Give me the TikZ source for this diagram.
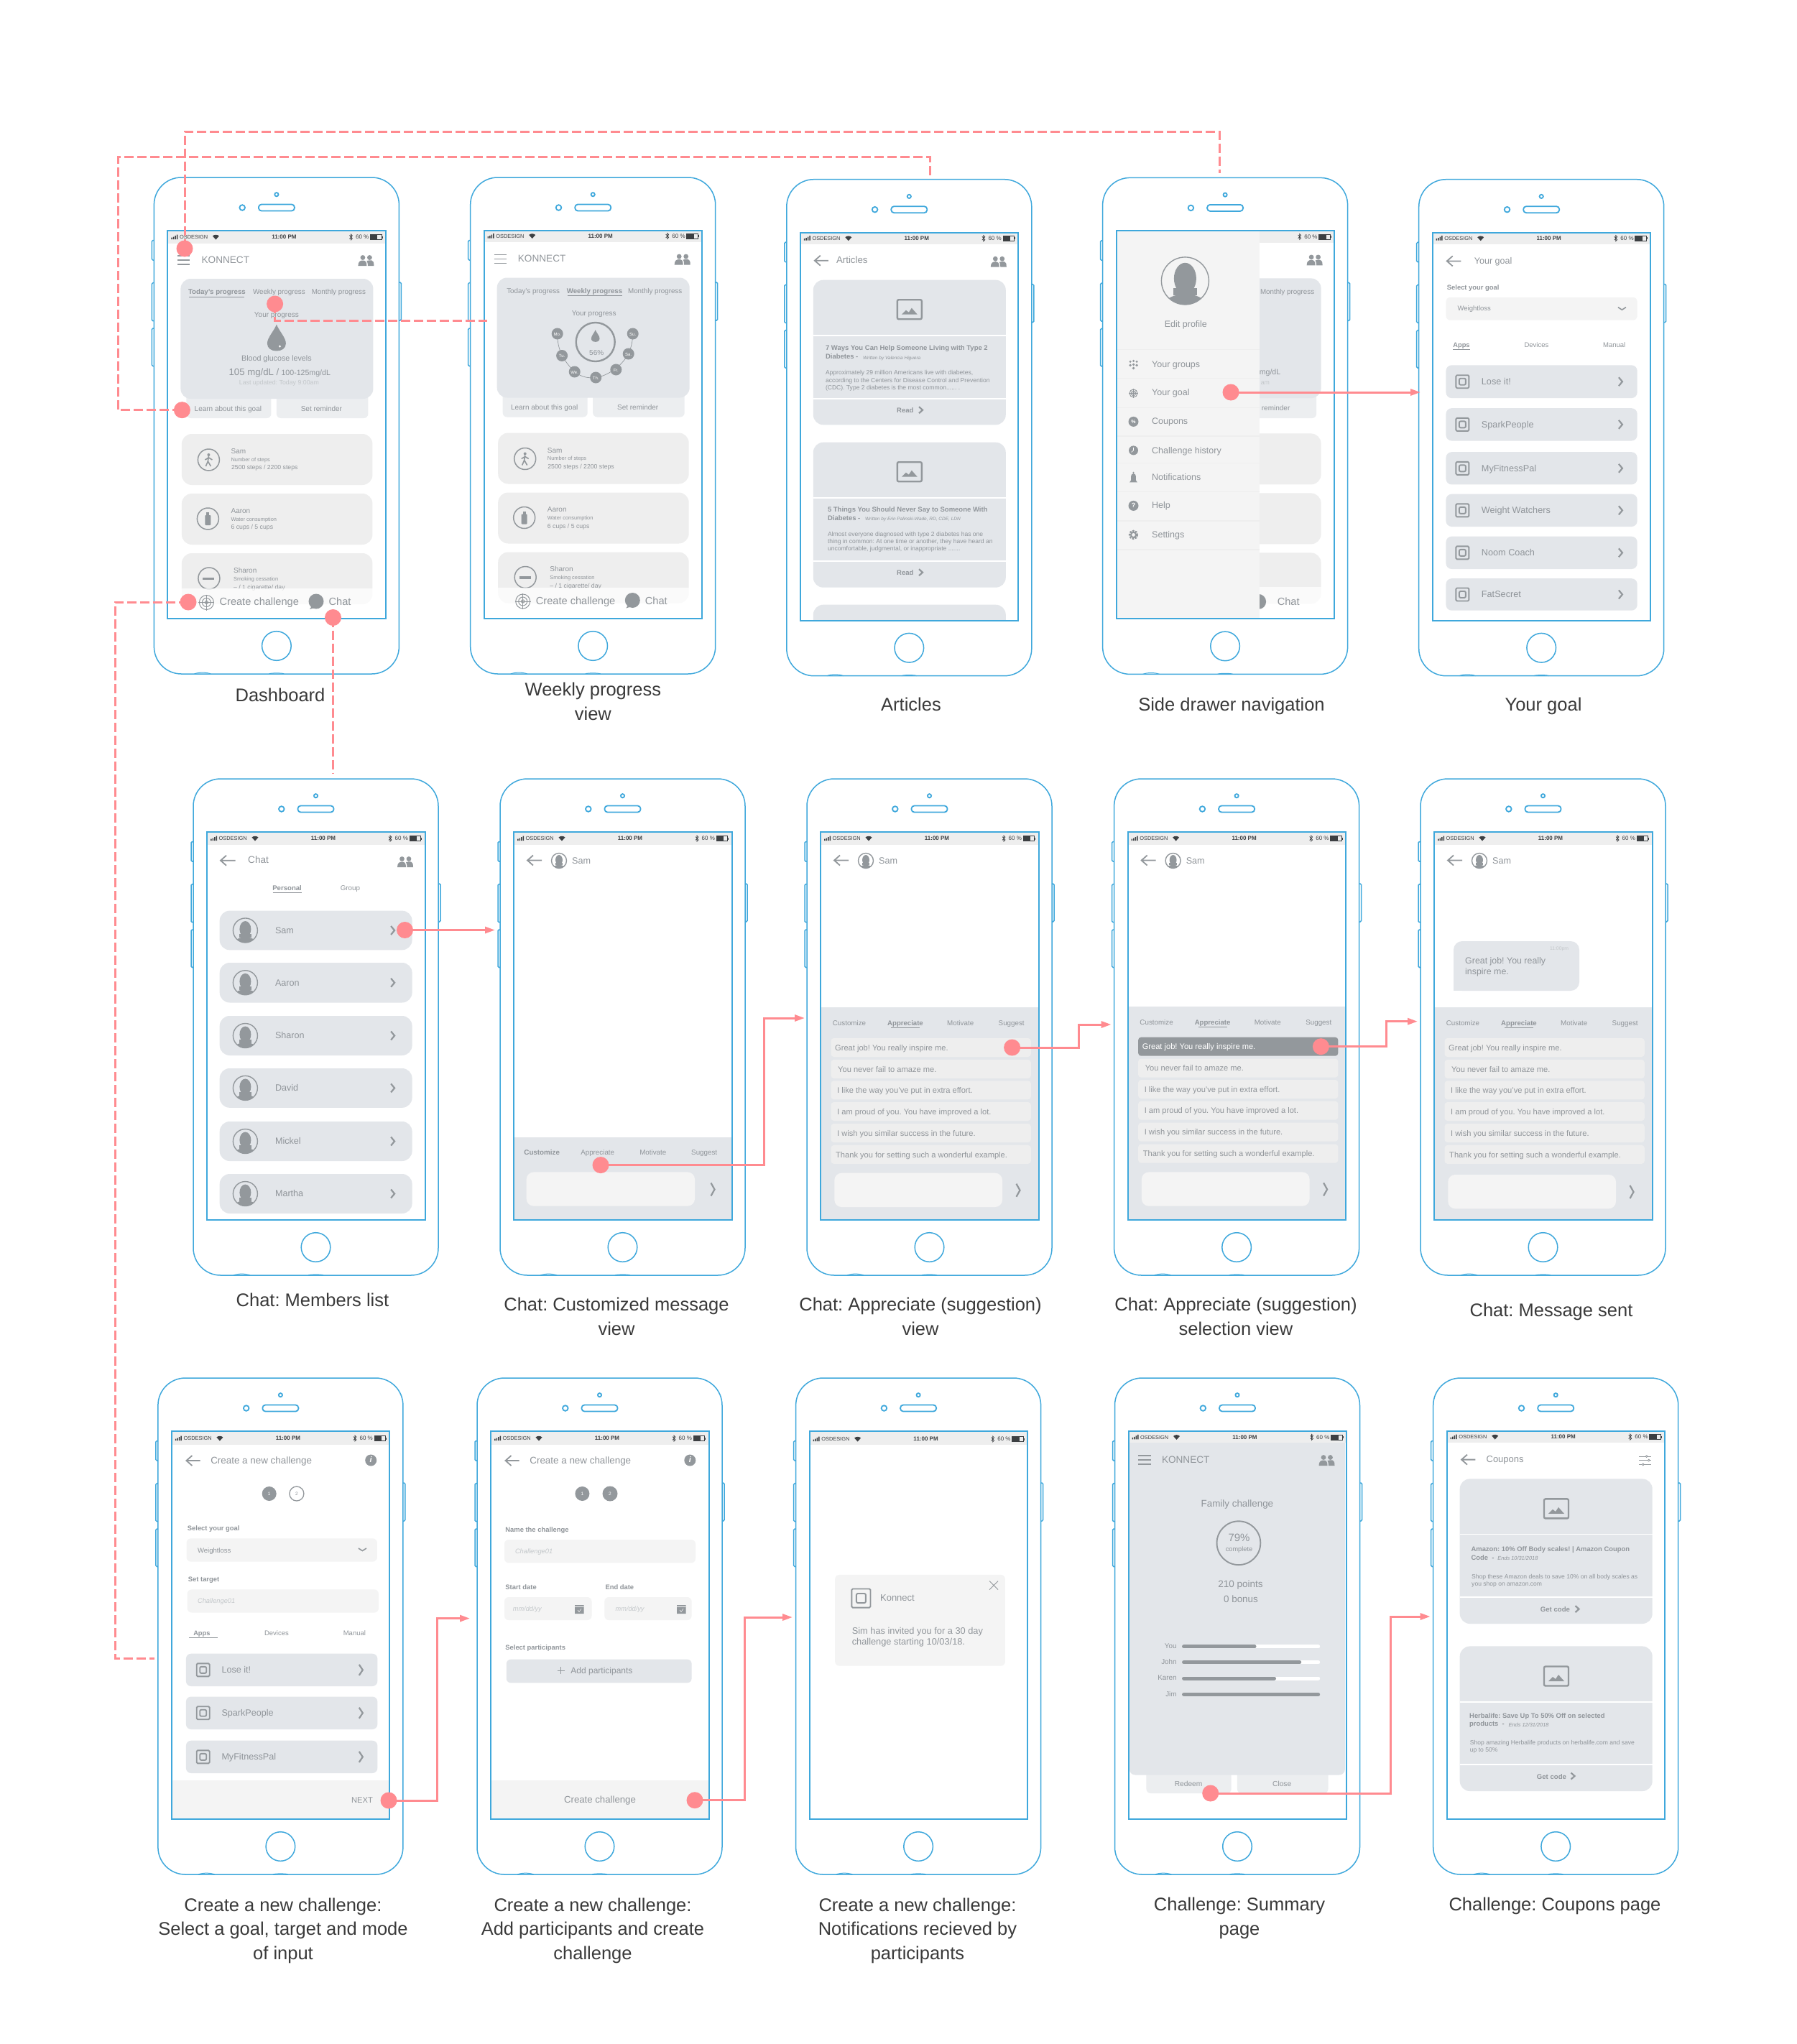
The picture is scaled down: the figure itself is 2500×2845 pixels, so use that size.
\documentclass[tikz,border=0pt]{standalone}
\usepackage{fontspec}
\setmainfont{Liberation Sans}
\usetikzlibrary{arrows.meta}
\definecolor{phb}{HTML}{3FA8DC}
\definecolor{pnk}{HTML}{FF8B90}
\definecolor{cardg}{HTML}{E3E6EA}
\definecolor{rowg}{HTML}{EEEEEE}
\definecolor{lite}{HTML}{F4F4F4}
\definecolor{btng}{HTML}{ECEEF0}
\definecolor{icn}{HTML}{93989C}
\definecolor{txt}{HTML}{90959A}
\definecolor{pale}{HTML}{C4C8CB}
\definecolor{stat}{HTML}{3C3F42}
\definecolor{capc}{HTML}{3A3A3A}
\newcounter{tn}
\tikzset{
  ui/.style={inner sep=0pt,anchor=mid west,text=txt,yshift=-1.6pt},
  ctr/.style={anchor=mid},
  rgt/.style={anchor=mid east},
  captext/.style={inner sep=0pt,anchor=center,align=center,text=capc,font=\fontsize{25.5}{33.5}\selectfont},
  pl/.style={draw=phb,line width=1.5pt},
  scr/.style={draw=phb,line width=2pt},
  dot/.style={circle,fill=pnk,minimum size=23pt,inner sep=0pt},
  dl/.style={draw=pnk,line width=3pt,dash pattern=on 13pt off 5pt},
  arr/.style={draw=pnk,line width=3pt,-{Triangle[length=14pt,width=9pt]}},
  ic/.style={draw=icn,line width=1.5pt},
}
\newcommand\tx[5][]{\stepcounter{tn}\node[ui,font=\fontsize{#4}{#4}\selectfont,#1] (t\arabic{tn}) at (#2,#3) {#5};}
\newcommand\capt[3]{\stepcounter{tn}\node[captext] (c\arabic{tn}) at (#1,#2) {#3};}
\newcommand\uiCard[6][12]{\fill[#2,rounded corners=#1] (#3,#4) rectangle (#5,#6);}
\newcommand\icPeople[2]{\begin{scope}[shift={(#1,#2)}]
  \fill[icn] (-4.5,-4.5) circle (3.4) (5,-4.5) circle (3.4);
  \fill[icn] (-11,7) .. controls (-11,1) and (-8,-0.5) .. (-4.5,-0.5) .. controls (-1,-0.5) and (1,1) .. (1,7) -- cycle;
  \fill[icn] (2.5,7) .. controls (2.5,3) and (1.5,1) .. (1,0) .. controls (3,-0.8) and (7,-0.8) .. (8,-0.5) .. controls (10,0) and (11,2) .. (11,7) -- cycle;
\end{scope}}
\newcommand\icHamb[3]{\draw[ic] (#1,#3-6) -- (#2,#3-6) (#1,#3) -- (#2,#3) (#1,#3+6) -- (#2,#3+6);}
\newcommand\icBack[3]{\draw[draw=icn,line width=1.8pt] (#1+8,#3-7) -- (#1,#3) -- (#1+8,#3+7) (#1,#3) -- (#2,#3);}
\newcommand\icChev[3][6]{\draw[draw=icn,line width=2.2pt] (#2-2.5,#3-#1) -- (#2+2.5,#3) -- (#2-2.5,#3+#1);}
\newcommand\icDown[2]{\draw[draw=icn,line width=1.6pt] (#1-5.5,#2-2) -- (#1,#2+1.5) -- (#1+5.5,#2-2);}
\newcommand\icApp[2]{\begin{scope}[shift={(#1,#2)}]
  \draw[draw=icn,line width=1.9pt,rounded corners=1.5pt] (-9,-9) rectangle (9,9);
  \draw[draw=icn,line width=1.9pt,rounded corners=2pt] (-4.5,-4.5) rectangle (4.5,4.5);
\end{scope}}
\newcommand\icImg[2]{\begin{scope}[shift={(#1,#2)}]
  \draw[draw=icn,line width=2.4pt,rounded corners=2pt] (-17,-13.5) rectangle (17,13.5);
  \fill[icn] (-11,7) -- (-5,1) -- (-1,4) -- (3,-2) -- (11,7) -- cycle;
\end{scope}}
\newcommand\icAvatar[3]{\begin{scope}[shift={(#1,#2)}]
  \begin{scope}
    \clip (0,0) circle (#3);
    \fill[icn] (0,-0.1*#3) ellipse ({0.47*#3} and {0.66*#3});
    \fill[icn] (-0.5*#3,0.3*#3) rectangle (0.5*#3,0.6*#3);
    \fill[icn] (0,1.0*#3) ellipse ({0.86*#3} and {0.44*#3});
  \end{scope}
  \draw[draw=icn,line width=1.4pt] (0,0) circle (#3);
\end{scope}}
\newcommand\statusRight[1]{%
  \begin{scope}[shift={(0,#1)}]
  \draw[draw=stat,line width=.7pt] (272,-2.5) -- (276,2) -- (274,4) -- (274,-4) -- (276,-2) -- (272,2.5);
  \tx[yshift=1.6pt]{280.5}{0}{8}{\textcolor{stat}{60 \%}}
  \draw[draw=stat,line width=.5pt] (301,-3.5) rectangle (316.5,3.5);
  \fill[stat] (301,-3.5) rectangle (311,3.5);
  \fill[stat] (317.2,-1.5) rectangle (318.2,1.5);
  \end{scope}}
\newcommand\uiStatus[2]{%
  \fill[rowg] (19,74) rectangle (323,#1);
  \begin{scope}[shift={(0,#2)}]
  \fill[stat] (24,0.5) rectangle (25.5,3) (26.5,-0.5) rectangle (28,3) (29,-2) rectangle (30.5,3) (31.5,-3.5) rectangle (33,3);
  \tx[yshift=1.6pt]{35.5}{0}{7.4}{\textcolor{stat}{OSDESIGN}}
  \fill[stat] (86,3.5) -- (81.5,-1.5) .. controls (84,-3.8) and (88,-3.8) .. (90.5,-1.5) -- cycle;
  \tx[ctr,yshift=1.6pt]{181}{0}{8}{\textcolor{stat}{\bfseries 11:00 PM}}
  \end{scope}
  \statusRight{#2}}
\newcommand\phone[4]{\begin{scope}[shift={(#2,#3)}]
  \coordinate (#1) at (0,0);
  \draw[pl,rounded corners=38pt] (0,0) rectangle (341,691);
  \draw[pl,line width=1pt] (56,691) .. controls (62,688.5) and (73,688.5) .. (79,691) (160,691) .. controls (162,689.5) and (179,689.5) .. (181,691);
  \draw[pl,rounded corners=1.5pt] (0,87.5) -- (-3,87.5) -- (-3,115) -- (0,115);
  \draw[pl,rounded corners=1.5pt] (0,146.7) -- (-3,146.7) -- (-3,199.7) -- (0,199.7);
  \draw[pl,rounded corners=1.5pt] (0,210) -- (-3,210) -- (-3,262.5) -- (0,262.5);
  \draw[pl,rounded corners=1.5pt] (341,146) -- (344,146) -- (344,199) -- (341,199);
  \draw[pl,line width=1.8pt] (170.5,23.7) circle (2.6);
  \draw[pl,line width=1.8pt] (122.8,42) circle (3.8);
  \draw[pl,line width=1.8pt,rounded corners=4pt] (145.5,37.5) rectangle (195.5,46.5);
  \draw[pl] (170.5,652) circle (20.3);
  \begin{scope}\clip (19,74) rectangle (322.5,614); #4 \end{scope}
  \draw[scr] (19,74) rectangle (322.5,614);
\end{scope}}
\newcommand\smallTarget[3]{\begin{scope}[shift={(#1,#2)}]
  \draw[ic,line width=1pt] (0,0) circle (#3) (0,0) circle (0.6*#3) (0,0) circle (0.22*#3);
  \draw[ic,line width=.8pt] (-#3-1,0) -- (#3+1,0) (0,-#3-1) -- (0,#3+1);
\end{scope}}
\newcommand\icBubble[2]{\fill[icn] (#1,#2) circle (10.5);
  \fill[icn] (#1-9,#2+11) -- (#1-5,#2+5) -- (#1+1,#2+8) -- cycle;}
\newcommand\icDrop[3]{\begin{scope}[shift={(#1,#2)},scale=#3]
  \fill[icn] (0,-18.5) .. controls (3,-10) and (13,0) .. (13,8) .. controls (13,15) and (7,18.5) .. (0,18.5) .. controls (-7,18.5) and (-13,15) .. (-13,8) .. controls (-13,0) and (-3,-10) .. (0,-18.5) -- cycle;
\end{scope}}
\newcommand\dashboard[1]{%
  \uiStatus{91.5}{83}
  \icHamb{33}{50}{115}
  \tx{66}{115}{13.6}{KONNECT}
  \icPeople{295}{116}
  \uiCard[6]{btng}{45}{295}{163}{335}
  \uiCard[6]{btng}{170.5}{295}{298}{335}
  \uiCard[14]{cardg}{37}{141}{305}{308}
  \tx[ctr]{257}{158.5}{9.8}{Monthly progress}
  \ifnum#1=1
    \tx[ctr]{87.5}{158.5}{9.7}{\bfseries Today's progress}
    \tx[ctr]{174}{158.5}{9.8}{Weekly progress}
    \draw[draw=txt,line width=.9pt] (49,166) -- (126,166);
    \tx[ctr]{170.5}{190}{10}{Your progress}
    \icDrop{170.5}{223}{1}
    \fill[white] (175,235) circle (1.6);
    \tx[ctr]{170.5}{251}{10.7}{Blood glucose levels}
    \tx{104}{271}{13.2}{105 mg/dL /}
    \tx{177}{271.5}{10.6}{100-125mg/dL}
    \tx[ctr,text=pale]{174}{284}{8.8}{Last updated: Today 9:00am}
  \else
    \tx[ctr]{87.5}{158.5}{9.8}{Today's progress}
    \tx[ctr]{172.8}{158.5}{9.7}{\bfseries Weekly progress}
    \draw[draw=txt,line width=.9pt] (135,166) -- (211,166);
    \tx[ctr]{172}{190}{10}{Your progress}
    \draw[draw=icn,line width=.7pt] (121,219) .. controls (121,240) and (128,255) .. (145,272) .. controls (155,280) and (165,281) .. (174.5,280) .. controls (190,278) and (210,265) .. (220,247) .. controls (224,238) and (226,228) .. (226,219);
    \draw[draw=icn,line width=2.4pt] (174,230.5) circle (27);
    \icDrop{174}{222}{0.45}
    \tx[ctr]{175.5}{245}{10}{56\%}
    \foreach \xa/\ya/\la in {121/219/Mo.,127.4/249.5/Tu.,145/272/We.,174.5/280/Th.,202.6/269/Fr.,220/247/Sa.,226/219/Su.}{%
      \fill[icn] (\xa,\ya) circle (8);
      \tx[ctr,text=white,yshift=1.6pt]{\xa}{\ya}{6}{\la}}
  \fi
  \tx[ctr]{103}{321}{10}{Learn about this goal}
  \tx[ctr]{233}{321}{10}{Set reminder}
  \uiCard[14]{rowg}{38.5}{357}{304}{428}
  \uiCard[14]{rowg}{38.5}{440}{304}{511}
  \uiCard[14]{rowg}{38.5}{523}{304}{594}
  \draw[ic] (76,393) circle (15) (75,475) circle (15) (76.5,558) circle (15);
  \fill[icn] (76,386) circle (2);
  \draw[draw=icn,line width=1.6pt] (76,388) -- (75,395) -- (72,402) (75,395) -- (79,402) (71,393) -- (76,390) -- (81,393);
  \fill[icn,rounded corners=1pt] (71,470) rectangle (79,484);
  \fill[icn] (73,466) rectangle (77,470);
  \fill[icn] (68,556.5) rectangle (84,560);
  \tx{107}{380.5}{10}{Sam}
  \tx{107}{391}{7.4}{Number of steps}
  \tx{107.5}{402.5}{8.7}{2500 steps / 2200 steps}
  \tx{107}{463}{10}{Aaron}
  \tx{107}{474}{7.4}{Water consumption}
  \tx{107}{485.5}{8.7}{6 cups / 5 cups}
  \tx{110.5}{546}{10}{Sharon}
  \tx{110.5}{557}{7.4}{Smoking cessation}
  \tx{110.5}{569}{8.7}{-- / 1 cigarette/ day}
  \fill[white,opacity=.72] (19,572) rectangle (323,614);
  \smallTarget{73}{591.5}{10}
  \tx{91}{591.5}{14.6}{Create challenge}
  \icBubble{225.6}{590}
  \tx{243}{591.5}{14.6}{Chat}
}
\newcommand\artCard[4]{\uiCard[14]{cardg}{37}{#1}{305}{#4}
  \draw[draw=white,line width=1.6pt] (37,#2) -- (305,#2) (37,#3) -- (305,#3);}
\newcommand\chatHead{\uiStatus{91.5}{83}
  \icBack{38}{58}{113.5}
  \icAvatar{82}{114}{10.5}
  \tx{100}{114.5}{12.6}{Sam}}
\newcommand\chatPanel[3]{\begin{scope}[shift={(0,#1)}]
  \fill[cardg] (19,318) rectangle (323,618);
  \tx[ctr]{59}{339.3}{9.8}{Customize}
  \tx[ctr]{137}{339.3}{9.6}{\bfseries Appreciate}
  \tx[ctr]{213.7}{339.3}{9.8}{Motivate}
  \tx[ctr]{284.7}{339.3}{9.8}{Suggest}
  \draw[draw=icn,line width=1pt] (117,346.3) -- (157,346.3);
  \foreach \yy/\xx/\msg in {374/39/Great job! You really inspire me.,403.9/43/You never fail to amaze me.,433.3/42/I like the way you've put in extra effort.,463/42/I am proud of you. You have improved a lot.,493/42/I wish you similar success in the future.,522.9/40/Thank you for setting such a wonderful example.}{%
    \uiCard[4]{rowg}{33.5}{\yy-13}{311.8}{\yy+13}
    \tx{\xx}{\yy}{11.1}{\msg}}
  \ifnum#2=1
    \uiCard[4]{icn}{33.5}{361}{311.8}{387}
    \tx[text=white]{39}{374}{11.1}{Great job! You really inspire me.}
  \fi
  \uiCard[10]{lite}{38.3}{548.7+#3}{272}{596+#3}
  \icChev[9]{294}{572.7+#3}
\end{scope}}
\begin{document}
\frenchspacing
\begin{tikzpicture}[x=1pt,y=-1pt]
\useasboundingbox (0,0) rectangle (2500,2845);
\fill[white] (0,0) rectangle (2500,2845);

% ---------- row 1
\phone{p1}{214.4}{247}{\dashboard{1}}
\phone{p2}{654.7}{247}{\begin{scope}[shift={(0,-1.5)}]\dashboard{2}\end{scope}}
\phone{p3}{1094.8}{249.7}{%
  \uiStatus{90}{82}
  \icBack{39}{58}{113}
  \tx{69}{113}{13.3}{Articles}
  \icPeople{295}{115}
  \artCard{140}{217}{305}{341.6}
  \icImg{171}{181}
  \tx{54}{234}{9.5}{\bfseries 7 Ways You Can Help Someone Living with Type 2}
  \tx{54}{246}{9.5}{\bfseries Diabetes -}
  \tx{106}{246.5}{6.5}{\itshape Written by Valencia Higuera}
  \tx{54}{268}{8.55}{Approximately 29 million Americans live with diabetes,}
  \tx{54}{278.5}{8.55}{according to the Centers for Disease Control and Prevention}
  \tx{54}{288.8}{8.55}{(CDC). Type 2 diabetes is the most common...... .}
  \tx[ctr]{165}{321}{9.5}{\bfseries Read}
  \icChev[4.5]{186.7}{321}
  \artCard{366}{443}{531}{568}
  \icImg{171}{407}
  \tx{57}{458.7}{9.5}{\bfseries 5 Things You Should Never Say to Someone With}
  \tx{57}{470.5}{9.5}{\bfseries Diabetes -}
  \tx{109}{471}{6.5}{\itshape Written by Erin Palinski-Wade, RD, CDE, LDN}
  \tx{57}{492.7}{8.55}{Almost everyone diagnosed with type 2 diabetes has one}
  \tx{57}{503}{8.55}{thing in common: At one time or another, they have heard an}
  \tx{57}{513}{8.55}{uncomfortable, judgmental, or inappropriate .......}
  \tx[ctr]{165}{547}{9.5}{\bfseries Read}
  \icChev[4.5]{186.7}{547}
  \uiCard[14]{cardg}{37}{592}{305}{650}
}
\phone{p4}{1534.6}{247.4}{%
  \fill[rowg] (19,74) rectangle (323,91);
  \statusRight{82}
  \icPeople{295}{115}
  \uiCard[6]{btng}{100}{300}{297.5}{334.6}
  \uiCard[14]{cardg}{100}{140}{304}{306.8}
  \uiCard[14]{rowg}{100}{356}{304}{427}
  \uiCard[14]{rowg}{100}{439}{304}{510}
  \uiCard[14]{rowg}{100}{522}{304}{593}
  \tx[ctr]{257}{157.6}{9.8}{Monthly progress}
  \tx{218}{270}{10.6}{mg/dL}
  \tx[text=pale]{220}{283.6}{8.8}{am}
  \tx[ctr]{241}{320}{10}{reminder}
  \fill[white,opacity=.72] (19,570) rectangle (323,614);
  \icBubble{217}{590}
  \tx{243}{591}{14.6}{Chat}
  \fill[lite] (19,74) rectangle (218,614);
  \icAvatar{114.8}{143.5}{33}
  \tx[ctr]{115.8}{204}{12.5}{Edit profile}
  \foreach \yy in {239.3,279.4,320,359.6,397,437,477.6,517.7}{\draw[draw=rowg,line width=1.3pt] (19,\yy) -- (218,\yy);}
  \tx{68.4}{260}{12.5}{Your groups}
  \tx{68.4}{298.7}{12.5}{Your goal}
  \tx{68.4}{339.3}{12.5}{Coupons}
  \tx{68.4}{379.4}{12.5}{Challenge history}
  \tx{68.4}{417.2}{12.5}{Notifications}
  \tx{68.4}{456.3}{12.5}{Help}
  \tx{68.4}{496.5}{12.5}{Settings}
  \fill[icn] (38.5,256) circle (1.7) (43,255) circle (1.7) (47.5,256) circle (1.7) (38.5,261) circle (1.9) (43,260) circle (1.9) (47.5,261) circle (1.9) (42.9,265) circle (1.9);
  \smallTarget{42.9}{300}{5.5}
  \fill[icn] (42.9,339.5) circle (7);
  \tx[ctr,text=white,yshift=1.6pt]{42.9}{339.5}{7}{\bfseries\%}
  \fill[icn] (42.9,379.5) circle (6.5);
  \draw[draw=white,line width=.7pt] (42.9,375.5) -- (42.9,379.5) -- (40,382);
  \fill[icn] (42.9,410.5) circle (1.2);
  \fill[icn] (37.5,424) -- (39.5,421) -- (39.5,415.5) .. controls (39.5,410.5) and (46.3,410.5) .. (46.3,415.5) -- (46.3,421) -- (48.3,424) -- cycle;
  \fill[icn] (42.9,456.5) circle (7);
  \tx[ctr,text=white,yshift=1.6pt]{42.9}{456.5}{9}{\bfseries ?}
  \draw[draw=icn,line width=2.6pt,dash pattern=on 2.4pt off 1.5pt] (42.9,497) circle (5.4);
  \draw[draw=icn,line width=2pt] (42.9,497) circle (3.6);
}
\phone{p5}{1974.7}{249.7}{%
  \uiStatus{90.6}{82}
  \icBack{39}{58.7}{113.7}
  \tx{77}{113.7}{12.5}{Your goal}
  \tx{39}{149.6}{9.4}{\bfseries Select your goal}
  \uiCard[6]{lite}{37.7}{164.2}{304}{196}
  \tx{53.7}{179}{9.5}{Weightloss}
  \icDown{282.7}{180}
  \tx[ctr]{59.3}{229.4}{9.3}{\bfseries Apps}
  \tx[ctr]{163.7}{229.4}{9.5}{Devices}
  \tx[ctr]{272}{229.4}{9.5}{Manual}
  \draw[draw=txt,line width=.8pt] (47.7,237) -- (71.3,237);
  \foreach \ya/\yb/\la in {258.6/304.4/Lose it!,318.5/363.8/SparkPeople,379.5/424.7/MyFitnessPal,438/483.3/Weight Watchers,497/542.3/Noom Coach,555.5/600/FatSecret}{%
    \pgfmathsetmacro\yc{0.5*\ya+0.5*\yb}
    \uiCard[8]{cardg}{37.7}{\ya}{304}{\yb}
    \icApp{60.7}{\yc}
    \tx{87}{\yc}{12.7}{\la}
    \icChev{280.7}{\yc}}
}

% ---------- row 2
\phone{p6}{269}{1084}{%
  \uiStatus{91.5}{83}
  \icBack{38}{58.5}{113.7}
  \tx{76}{113.7}{13.6}{Chat}
  \icPeople{295}{116}
  \tx[ctr]{130.6}{151}{9.6}{\bfseries Personal}
  \tx[ctr]{218.4}{151}{9.8}{Group}
  \draw[draw=txt,line width=.8pt] (110.7,158) -- (151,158);
  \foreach \ya/\yb/\la in {183.6/238.3/Sam,256/311.5/Aaron,330/385/Sharon,403/457.8/David,477/532/Mickel,550/605/Martha}{%
    \pgfmathsetmacro\yc{0.5*\ya+0.5*\yb}
    \uiCard[14]{cardg}{36.7}{\ya}{304.6}{\yb}
    \icAvatar{72.4}{\yc}{17}
    \tx{113.8}{\yc}{12.6}{\la}
    \icChev{277.6}{\yc}}
}
\phone{p7}{696}{1084}{%
  \chatHead
  \fill[cardg] (19,498.8) rectangle (323,616);
  \tx[ctr]{58.2}{519.6}{9.8}{\bfseries Customize}
  \tx[ctr]{135.7}{519.6}{9.8}{Appreciate}
  \tx[ctr]{212.8}{519.6}{9.8}{Motivate}
  \tx[ctr]{284.2}{519.6}{9.8}{Suggest}
  \uiCard[10]{lite}{36.7}{547.4}{271}{594.6}
  \icChev[9]{296}{571.5}
}
\phone{p8}{1123}{1084}{\chatHead\chatPanel{0}{0}{0}}
\phone{p9}{1550.6}{1084}{\chatHead\chatPanel{-1.3}{1}{0}}
\phone{p10}{1977}{1084}{%
  \chatHead\chatPanel{0}{0}{2.3}
  \uiCard[12]{cardg}{46}{226}{221}{295}
  \fill[cardg] (46,280) rectangle (70,295);
  \tx[ctr,text=pale]{193}{234.3}{6.8}{11:00pm}
  \tx{62}{253}{12.4}{Great job! You really}
  \tx{62}{268.7}{12.4}{inspire me.}
}

% ---------- row 3
\newcommand\createHead{\uiStatus{92.6}{84}
  \icBack{39.5}{58.6}{115}
  \tx{73.2}{115}{13.4}{Create a new challenge}
  \fill[icn] (296.3,114.5) circle (8);
  \tx[ctr,text=white,yshift=1.6pt]{296.3}{114.5}{11}{\bfseries\itshape i}}
\phone{p11}{219.9}{1918}{%
  \createHead
  \fill[icn] (154.8,161) circle (10);
  \tx[ctr,text=white,yshift=1.6pt]{154.8}{161}{6.5}{1}
  \draw[ic,line width=1.3pt] (193,161) circle (10);
  \tx[ctr,yshift=1.6pt]{193}{161}{6.5}{2}
  \tx{40.8}{208.7}{9.4}{\bfseries Select your goal}
  \uiCard[6]{lite}{39.7}{223.4}{305}{255.6}
  \tx{55}{239}{9.5}{Weightloss}
  \icDown{284.5}{239}
  \tx{41.8}{279.7}{9.4}{\bfseries Set target}
  \uiCard[6]{lite}{40.8}{294.4}{307}{326.5}
  \tx[text=pale]{55}{309.6}{9.3}{\itshape Challenge01}
  \tx[ctr]{61}{354.7}{9.3}{\bfseries Apps}
  \tx[ctr]{165}{354.7}{9.5}{Devices}
  \tx[ctr]{273.5}{354.7}{9.5}{Manual}
  \draw[draw=txt,line width=1pt] (43,361.8) -- (82.6,361.8);
  \foreach \ya/\yb/\la in {383.7/429/Lose it!,443.5/489/SparkPeople,504.7/550/MyFitnessPal}{%
    \pgfmathsetmacro\yc{0.5*\ya+0.5*\yb}
    \uiCard[7]{cardg}{39}{\ya}{305.4}{\yb}
    \icApp{62.8}{\yc}
    \tx{88.4}{\yc}{12.6}{\la}
    \icChev[7.5]{282.4}{\yc}}
  \fill[lite] (19,560) rectangle (323,616);
  \tx{269}{586.8}{11.2}{NEXT}
}
\phone{p12}{664}{1918}{%
  \createHead
  \fill[icn] (146.4,161) circle (10);
  \tx[ctr,text=white,yshift=1.6pt]{146.4}{161}{6.5}{1}
  \fill[icn] (185,161) circle (10.5);
  \tx[ctr,text=white,yshift=1.6pt]{185}{161}{6.5}{2}
  \tx{39.2}{210.5}{9.4}{\bfseries Name the challenge}
  \uiCard[6]{lite}{38}{225}{304}{257.4}
  \tx[text=pale]{52.8}{240.4}{9.3}{\itshape Challenge01}
  \tx{39.2}{290.4}{9.4}{\bfseries Start date}
  \tx{178.3}{290.4}{9.4}{\bfseries End date}
  \uiCard[6]{lite}{38}{305}{159.5}{337}
  \uiCard[6]{lite}{177.3}{305}{298.6}{337}
  \tx[text=pale]{49.7}{320.7}{9.2}{\itshape mm/dd/yy}
  \tx[text=pale]{192.5}{320.7}{9.2}{\itshape mm/dd/yy}
  \fill[icn] (136,316) rectangle (148.5,328) (278,316) rectangle (290.5,328);
  \draw[draw=lite,line width=.6pt] (136,318.5) -- (148.5,318.5) (278,318.5) -- (290.5,318.5) (140,323) -- (142,325.5) -- (145,321) (282,323) -- (284,325.5) -- (287,321);
  \tx{39.2}{373.9}{9.4}{\bfseries Select participants}
  \uiCard[6]{cardg}{40.8}{391.7}{298.6}{424.3}
  \draw[draw=icn,line width=.9pt] (111.5,407.4) -- (121.5,407.4) (116.5,402.4) -- (116.5,412.4);
  \tx{130.2}{407.6}{12}{Add participants}
  \fill[lite] (19,560) rectangle (323,616);
  \tx[ctr]{171}{587}{13.2}{Create challenge}
}
\phone{p13}{1107.6}{1918}{%
  \uiStatus{92.6}{85}
  \uiCard[6]{lite}{54.6}{273.9}{291.3}{400.7}
  \begin{scope}[shift={(90.8,306.5)},scale=1.45]\icApp{0}{0}\end{scope}
  \tx{117.3}{306.5}{13}{Konnect}
  \draw[draw=icn,line width=1pt] (269.5,282.6) -- (281.5,294.6) (281.5,282.6) -- (269.5,294.6);
  \tx{78}{352.5}{12.8}{Sim has invited you for a 30 day}
  \tx{78}{367.6}{12.8}{challenge starting 10/03/18.}
}
\phone{p14}{1551.5}{1918}{%
  \uiCard[6]{btng}{43.9}{540}{162.2}{578}
  \uiCard[6]{btng}{170.4}{540}{297}{578}
  \uiCard[8]{cardg}{20.4}{80}{320.4}{552.5}
  \uiStatus{90.4}{82.4}
  \icHamb{32.7}{50}{114}
  \tx{65.3}{114.5}{13.6}{KONNECT}
  \icPeople{295}{115}
  \tx[ctr]{170.4}{175.7}{13.4}{Family challenge}
  \draw[draw=icn,line width=1.9pt] (172.4,229.7) circle (30.4);
  \tx[ctr]{173}{223}{15}{79\%}
  \tx[ctr]{173}{236.8}{9.2}{complete}
  \tx[ctr]{175}{286.8}{13.5}{210 points}
  \tx[ctr]{175.5}{308.3}{13.4}{0 bonus}
  \foreach \yy/\xe/\la in {373.9/197/You,395.8/259.7/John,418/224.5/Karen,440.4/285.7/Jim}{%
    \draw[draw=white,line width=5pt,line cap=round] (96,\yy) -- (283.2,\yy);
    \draw[draw=icn,line width=5pt,line cap=round] (96,\yy) -- (\xe-2.5,\yy);
    \tx[rgt]{86.2}{\yy-1.5}{9.8}{\la}}
  \tx[ctr]{102.6}{564}{10.2}{Redeem}
  \tx[ctr]{232.7}{564.5}{10.2}{Close}
}
\phone{p15}{1994.7}{1918}{%
  \uiStatus{90.4}{82}
  \icBack{39.3}{58.7}{113.6}
  \tx{73.7}{113.6}{13}{Coupons}
  \draw[draw=icn,line width=.8pt] (286.7,109) -- (303.7,109) (286.7,114.5) -- (303.7,114.5) (286.7,120.3) -- (303.7,120.3);
  \draw[draw=icn,line width=.8pt,fill=white] (297,109) circle (1.4) (300,114.5) circle (1.4) (292,120.3) circle (1.4);
  \artCard{140.4}{217.6}{304.7}{342}
  \icImg{171.3}{181.9}
  \tx{52.7}{236.8}{9.4}{\bfseries Amazon: 10\% Off Body scales! | Amazon Coupon}
  \tx{52.7}{248.9}{9.4}{\bfseries Code\ \ -}
  \tx{89.5}{249.4}{7.4}{\itshape Ends 10/31/2018}
  \tx{53.3}{274.8}{8.55}{Shop these Amazon deals to save 10\% on all body scales as}
  \tx{53.3}{285}{8.55}{you shop on amazon.com}
  \tx[ctr]{169.7}{321.6}{9.6}{\bfseries Get code}
  \icChev[4.5]{200.3}{321.6}
  \artCard{373.4}{450.7}{538}{575}
  \icImg{171.3}{415}
  \tx{50.3}{469}{9.4}{\bfseries Herbalife: Save Up To 50\% Off on selected}
  \tx{50.3}{480.6}{9.4}{\bfseries products\ \ -}
  \tx{104.7}{481}{7.4}{\itshape Ends 12/31/2018}
  \tx{51}{506.5}{8.55}{Shop amazing Herbalife products on herbalife.com and save}
  \tx{51}{516.7}{8.55}{up to 50\%}
  \tx[ctr]{164.7}{554}{9.6}{\bfseries Get code}
  \icChev[4.5]{194.3}{554}
}

% ---------- captions
\capt{390}{967}{Dashboard}
\capt{825.4}{976.5}{Weekly progress\\view}
\capt{1268}{980}{Articles}
\capt{1714}{983}{Side drawer navigation}
\capt{2148}{983}{Your goal}
\capt{435}{1809}{Chat: Members list}
\capt{858}{1832.5}{Chat: Customized message\\view}
\capt{1281}{1832.5}{Chat: Appreciate (suggestion)\\view}
\capt{1720}{1832.5}{Chat: Appreciate (suggestion)\\selection view}
\capt{2159}{1826}{Chat: Message sent}
\capt{394}{2687}{Create a new challenge:\\Select a goal, target and mode\\of input}
\capt{825}{2687}{Create a new challenge:\\Add participants and create\\challenge}
\capt{1277}{2687}{Create a new challenge:\\Notifications recieved by\\participants}
\capt{1725}{2670}{Challenge: Summary\\page}
\capt{2164}{2653}{Challenge: Coupons page}

% ---------- hot spots and connectors
\node[dot] (d1) at (257,346) {};
\node[dot] (d2) at (382.6,423) {};
\node[dot] (d3) at (253.4,570.7) {};
\node[dot] (d4) at (262,838) {};
\node[dot] (d5) at (463.5,859.5) {};
\node[dot] (d6) at (1713,546) {};
\node[dot] (d7) at (563.5,1294.5) {};
\node[dot] (d8) at (836,1621.6) {};
\node[dot] (d9) at (1408.6,1458) {};
\node[dot] (d10) at (1838.4,1456.7) {};
\node[dot] (d11) at (541,2506) {};
\node[dot] (d12) at (967,2505.7) {};
\node[dot] (d13) at (1684.7,2496) {};

\coordinate (v1) at (1697.3,183);   \coordinate (e1) at (1697.3,241);
\coordinate (h2) at (164.4,218.7); \coordinate (v2) at (1294.8,218.7); \coordinate (e2) at (1294.8,248);
\coordinate (e3) at (678,446);
\coordinate (h4) at (160,2308.4);  \coordinate (e4) at (214.6,2308.4);
\coordinate (e5) at (463.5,1075.6);
\coordinate (e6) at (1977,546);
\coordinate (e7) at (689,1294.5);
\coordinate (v8) at (1063,1417);   \coordinate (e8) at (1120,1417);
\coordinate (v9) at (1501,1426);   \coordinate (e9) at (1546.6,1426);
\coordinate (v10) at (1929,1421.7);\coordinate (e10) at (1973,1421.7);
\coordinate (v11) at (608.5,2252.6);\coordinate (e11) at (654,2252.6);
\coordinate (v12) at (1036,2251);  \coordinate (e12) at (1103,2251);
\coordinate (v13) at (1935.6,2250);\coordinate (e13) at (1990.7,2250);

\draw[dl] (d1.center) |- (v1) -- (e1);
\draw[dl] (d3.center) -| (h2) -- (v2) -- (e2);
\draw[dl] (d2.center) |- (e3);
\draw[dl] (d4.center) -| (h4) -- (e4);
\draw[dl] (d5.center) -- (e5);
\draw[arr] (d6.center) -- (e6);
\draw[arr] (d7.center) -- (e7);
\draw[arr] (d8.center) -| (v8) -- (e8);
\draw[arr] (d9.center) -| (v9) -- (e9);
\draw[arr] (d10.center) -| (v10) -- (e10);
\draw[arr] (d11.center) -| (v11) -- (e11);
\draw[arr] (d12.center) -| (v12) -- (e12);
\draw[arr] (d13.center) -| (v13) -- (e13);
\end{tikzpicture}
\end{document}
